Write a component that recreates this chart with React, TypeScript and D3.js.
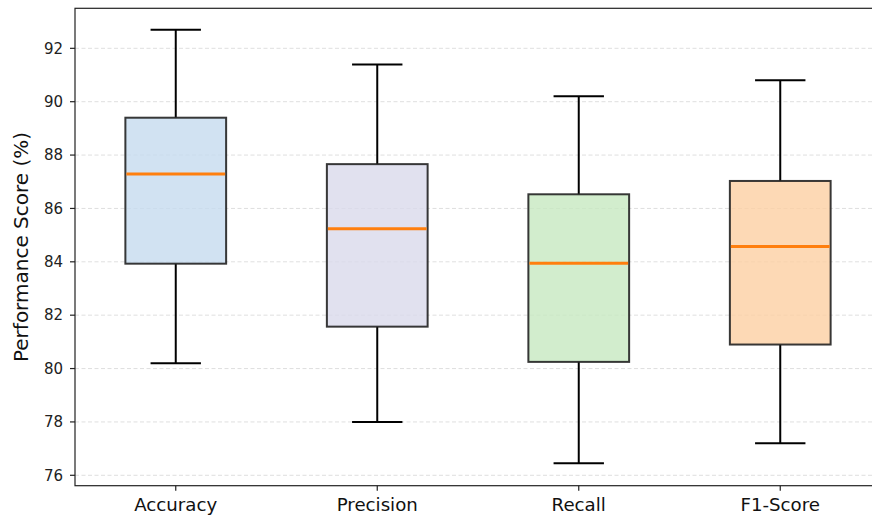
import * as d3 from 'd3'

// metrics and their box stats
const metrics = ['Accuracy', 'Precision', 'Recall', 'F1-Score']
const whiskerLow = [80.2, 78.0, 76.45, 77.2]
const q1 = [83.93, 81.57, 80.25, 80.9]
const medians = [87.29, 85.24, 83.95, 84.57]
const q3 = [89.4, 87.66, 86.53, 87.03]
const whiskerHigh = [92.7, 91.39, 90.2, 90.8]
const fills = ['#c6dbef', '#dadaeb', '#c7e9c0', '#fdd0a2']
const yTicks = [76, 78, 80, 82, 84, 86, 88, 90, 92]

const W = 872
const H = 519
const left = 75
const top = 8.3
const bottom = 485.7
const right = 881

function App() {
    const x = d3.scaleLinear().domain([0.5, 4.5]).range([left, right])
    const y = d3.scaleLinear().domain([75.61, 93.5]).range([bottom, top])

    const boxW = x(1.25) - x(1)
    const capW = x(1.125) - x(1)

    return (
        <svg width={W} height={H} style={{position: 'absolute', left: 0, top: 0, fontFamily: 'DejaVu Sans'}}>
            <rect x={0} y={0} width={W} height={H} fill="white" />

            {/* grid */}
            {yTicks.map(t => (
                <line key={'g' + t} x1={left} x2={right} y1={y(t)} y2={y(t)}
                    stroke="#b0b0b0" strokeOpacity={0.5} strokeWidth={0.8} strokeDasharray="4,2.5" />
            ))}

            {/* boxes */}
            {metrics.map((m, i) => {
                const cx = x(i + 1)
                return (
                    <g key={m}>
                        <line x1={cx} x2={cx} y1={y(whiskerHigh[i])} y2={y(q3[i])} stroke="black" strokeWidth={2} />
                        <line x1={cx} x2={cx} y1={y(q1[i])} y2={y(whiskerLow[i])} stroke="black" strokeWidth={2} />
                        <line x1={cx - capW} x2={cx + capW} y1={y(whiskerHigh[i])} y2={y(whiskerHigh[i])} stroke="black" strokeWidth={2} />
                        <line x1={cx - capW} x2={cx + capW} y1={y(whiskerLow[i])} y2={y(whiskerLow[i])} stroke="black" strokeWidth={2} />
                        <rect x={cx - boxW} y={y(q3[i])} width={boxW * 2} height={y(q1[i]) - y(q3[i])}
                            fill={fills[i]} fillOpacity={0.8} stroke="#222" strokeOpacity={0.9} strokeWidth={2} />
                        <line x1={cx - boxW + 1} x2={cx + boxW - 1} y1={y(medians[i])} y2={y(medians[i])} stroke="#ff7f0e" strokeWidth={3} />
                    </g>
                )
            })}

            {/* frame */}
            <rect x={left} y={top} width={right - left} height={bottom - top} fill="none" stroke="#222" strokeWidth={1.2} />

            {/* y axis */}
            {yTicks.map(t => (
                <g key={'y' + t}>
                    <line x1={left - 5} x2={left} y1={y(t)} y2={y(t)} stroke="#222" strokeWidth={1.2} />
                    <text x={left - 12} y={y(t)} dy="0.35em" textAnchor="end" fontSize={15} fill="#222">{t}</text>
                </g>
            ))}

            {/* x axis */}
            {metrics.map((m, i) => (
                <g key={'x' + m}>
                    <line x1={x(i + 1)} x2={x(i + 1)} y1={bottom} y2={bottom + 5} stroke="#222" strokeWidth={1.2} />
                    <text x={x(i + 1)} y={bottom + 25} textAnchor="middle" fontSize={18.2} fill="#111">{m}</text>
                </g>
            ))}

            <text transform={`translate(28, ${(top + bottom) / 2}) rotate(-90)`} textAnchor="middle" fontSize={20} fill="#111">
                Performance Score (%)
            </text>
        </svg>
    )
}

export default App
